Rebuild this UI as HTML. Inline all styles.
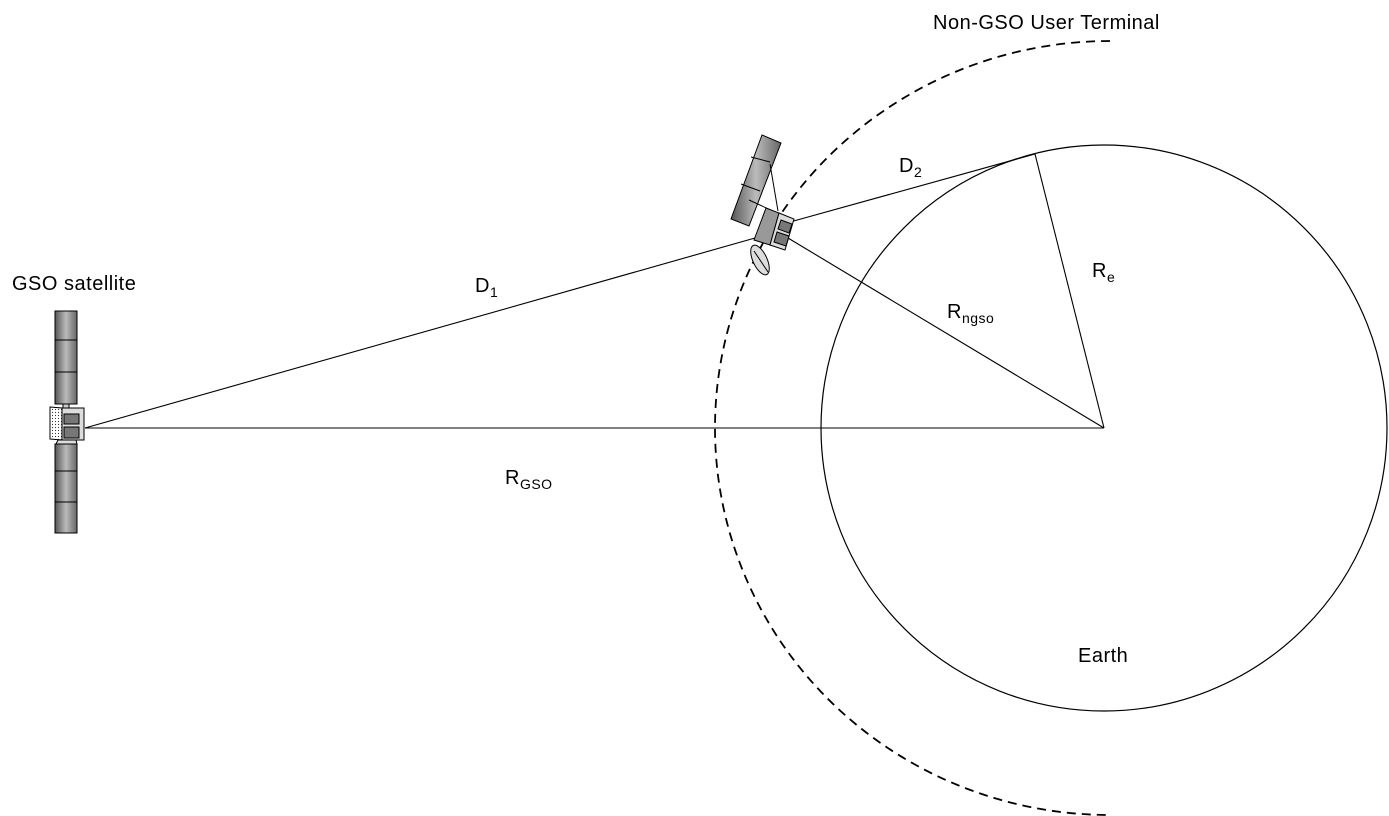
<!DOCTYPE html>
<html><head><meta charset="utf-8"><style>
body{margin:0;background:#fff}
svg{display:block}
text{font-family:"Liberation Sans","DejaVu Sans",sans-serif;fill:#000}
</style></head><body>
<svg width="1389" height="816" viewBox="0 0 1389 816" xmlns="http://www.w3.org/2000/svg">
<defs>
<linearGradient id="pg" x1="0" x2="1" y1="0" y2="0">
<stop offset="0" stop-color="#555"/><stop offset="0.5" stop-color="#bbb"/><stop offset="1" stop-color="#666"/>
</linearGradient>
<pattern id="dots" width="3" height="3" patternUnits="userSpaceOnUse"><rect width="3" height="3" fill="#fff"/><circle cx="1.5" cy="1.5" r="0.6" fill="#333"/></pattern>
</defs>
<circle cx="1104" cy="428" r="283" fill="none" stroke="#000" stroke-width="1.2"/>
<path d="M1110 41 A395 387 0 0 0 1110 815" fill="none" stroke="#000" stroke-width="1.8" stroke-dasharray="9,6"/>
<g stroke="#000" stroke-width="1.1" fill="none">
<line x1="85" y1="428" x2="1104" y2="428"/>
<line x1="85" y1="428" x2="755" y2="238"/>
<line x1="790" y1="222" x2="1035" y2="154"/>
<line x1="788" y1="238" x2="1104" y2="428"/>
<line x1="1035" y1="154" x2="1104" y2="428"/>
</g>
<g stroke="#000" stroke-width="1">
<rect x="55" y="311" width="22" height="93" fill="url(#pg)"/>
<line x1="55" y1="340" x2="77" y2="340"/><line x1="55" y1="372" x2="77" y2="372"/>
<rect x="55" y="444" width="22" height="89" fill="url(#pg)"/>
<line x1="55" y1="471" x2="77" y2="471"/><line x1="55" y1="502" x2="77" y2="502"/>
<rect x="63" y="404" width="6" height="4" fill="#ccc"/>
<polygon points="50,407 62,408 62,440 50,439" fill="url(#dots)"/>
<rect x="62" y="408" width="22" height="32" fill="#ddd"/>
<rect x="64" y="414" width="15" height="10" fill="#777"/>
<rect x="64" y="427" width="15" height="11" fill="#777"/>
<polygon points="58,440 76,440 77,444 56,444" fill="#ddd"/>
</g>
<g stroke="#000" stroke-width="1">
<polygon points="762,135 781,143 749,226 731,219" fill="url(#pg)"/>
<line x1="770" y1="162" x2="751" y2="157"/>
<line x1="760" y1="191" x2="741" y2="184"/>
<line x1="770" y1="164" x2="778" y2="211" fill="none"/>
<line x1="749" y1="200" x2="775" y2="212"/>
<polygon points="766,208 779,213 770,245 754,240" fill="#999"/>
<polygon points="779,213 794,219 785,250 770,245" fill="#ddd"/>
<polygon points="781,220 792,224 789,233 778,229" fill="#777"/>
<polygon points="777,232 789,236 786,246 774,242" fill="#777"/>
<ellipse cx="760" cy="260" rx="7" ry="16" transform="rotate(-25 760 260)" fill="#ddd"/>
<line x1="754" y1="251" x2="768" y2="272"/>
</g>
<g font-size="20" letter-spacing="0.5">
<text x="12" y="290">GSO satellite</text>
<text x="933" y="29">Non-GSO User Terminal</text>
<text x="475" y="292">D<tspan font-size="14" dy="5">1</tspan></text>
<text x="505" y="484">R<tspan font-size="14" dy="5">GSO</tspan></text>
<text x="899" y="172">D<tspan font-size="14" dy="5">2</tspan></text>
<text x="1092" y="277">R<tspan font-size="14" dy="5">e</tspan></text>
<text x="947" y="318">R<tspan font-size="14" dy="5">ngso</tspan></text>
<text x="1078" y="662">Earth</text>
</g>
</svg>
</body></html>
